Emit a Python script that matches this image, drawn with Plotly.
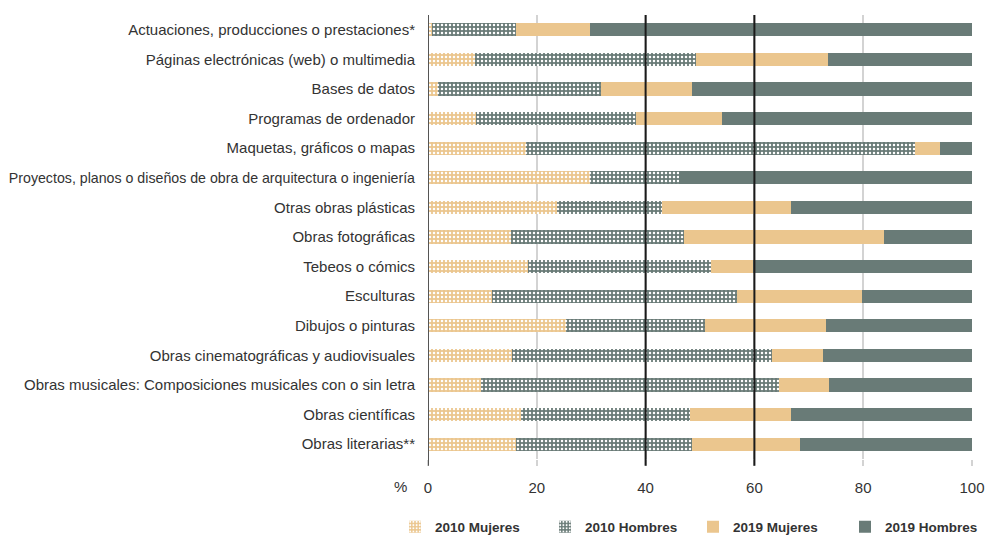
import plotly.graph_objects as go

categories = [
    "Actuaciones, producciones o prestaciones*",
    "Páginas electrónicas (web) o multimedia",
    "Bases de datos",
    "Programas de ordenador",
    "Maquetas, gráficos o mapas",
    "Proyectos, planos o diseños de obra de arquitectura o ingeniería",
    "Otras obras plásticas",
    "Obras fotográficas",
    "Tebeos o cómics",
    "Esculturas",
    "Dibujos o pinturas",
    "Obras cinematográficas y audiovisuales",
    "Obras musicales: Composiciones musicales con o sin letra",
    "Obras científicas",
    "Obras literarias**",
]

mujeres_2010 = [0.8, 8.7, 1.9, 8.9, 18.1, 29.8, 23.7, 15.2, 18.3, 11.7, 25.4, 15.5, 9.8, 17.1, 16.2]
hombres_2010 = [15.4, 40.6, 29.9, 29.4, 71.5, 16.3, 19.4, 31.8, 33.7, 45.1, 25.6, 47.7, 54.7, 31.1, 32.4]
mujeres_2019 = [13.6, 24.2, 16.8, 15.7, 4.6, 0.0, 23.6, 36.8, 7.8, 22.9, 22.1, 9.4, 9.2, 18.5, 19.8]
hombres_2019 = [70.2, 26.5, 51.4, 46.0, 5.8, 53.9, 33.3, 16.2, 40.2, 20.3, 26.9, 27.4, 26.3, 33.3, 31.6]

x_ticks = [0, 20, 40, 60, 80, 100]
ref_lines = [40, 60]

ORANGE = "#EBC68E"
GREEN = "#697B77"

# long labels rendered slightly smaller so they fit in the left margin
tick_text = [
    f'<span style="font-size:14.2px">{c}</span>' if len(c) > 60 else c
    for c in categories
]

fig = go.Figure()

series = [
    ("2010 Mujeres", mujeres_2010, ORANGE, True),
    ("2010 Hombres", hombres_2010, GREEN, True),
    ("2019 Mujeres", mujeres_2019, ORANGE, False),
    ("2019 Hombres", hombres_2019, GREEN, False),
]
legend_x = [395, 545, 693, 845]
legend_ids = ["legend", "legend2", "legend3", "legend4"]

for (name, vals, col, patterned), lid in zip(series, legend_ids):
    marker = dict(color=col, line=dict(width=0))
    if patterned:
        marker["pattern"] = dict(shape=".", fgcolor="white", bgcolor=col,
                                 size=4, solidity=0.3, fillmode="replace")
    fig.add_trace(go.Bar(
        y=categories, x=vals, name=name, orientation="h",
        marker=marker, legend=lid,
    ))

for v in ref_lines:
    fig.add_shape(type="line", xref="x", yref="paper", x0=v, x1=v, y0=-0.015, y1=1,
                  line=dict(color="#1a1a1a", width=2))
fig.add_shape(type="line", xref="x", yref="paper", x0=0, x1=0, y0=-0.015, y1=1,
              line=dict(color="#555555", width=2))

fig.add_annotation(text="%", xref="paper", yref="paper", x=-0.05, y=-0.063,
                   showarrow=False, font=dict(size=15, color="#333333"),
                   xanchor="center", yanchor="middle")

legend_common = dict(
    orientation="h", xref="container", yref="container", xanchor="left",
    y=0.017, yanchor="middle", bgcolor="rgba(0,0,0,0)",
    font=dict(size=13.5, color="#333333", weight="bold"),
)

fig.update_layout(
    barmode="stack",
    bargap=0.56,
    width=986, height=536,
    margin=dict(l=428, r=14, t=15, b=77),
    plot_bgcolor="white",
    paper_bgcolor="white",
    font=dict(family="Liberation Sans, Arial, sans-serif", size=15, color="#333333"),
    xaxis=dict(
        range=[0, 100], tickvals=x_ticks, showgrid=True, gridcolor="#D3D3D3",
        gridwidth=1.5, zeroline=False, ticks="outside", ticklen=6,
        tickcolor="#D3D3D3", tickwidth=1.5, ticklabelstandoff=9,
        tickfont=dict(size=15, color="#333333"), automargin=False,
    ),
    yaxis=dict(
        autorange="reversed", showgrid=False, zeroline=False,
        tickmode="array", tickvals=categories, ticktext=tick_text,
        ticks="", ticklabelstandoff=12, automargin=False,
        tickfont=dict(size=15, color="#333333"),
    ),
    showlegend=True,
)
for lid, lx in zip(legend_ids, legend_x):
    fig.update_layout({lid: dict(legend_common, x=lx / 986)})

fig.write_html("out.html",
               config={"displayModeBar": False},
               post_script="document.body.style.margin='0';document.body.style.overflow='hidden';")
